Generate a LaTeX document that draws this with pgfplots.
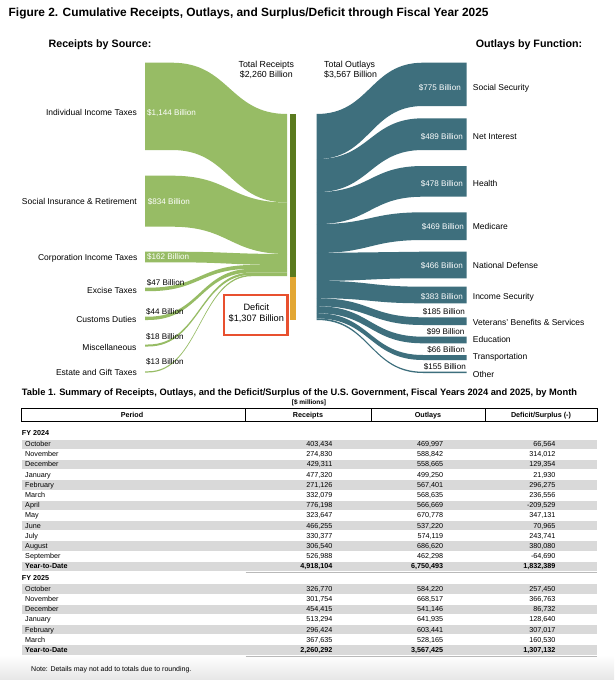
\documentclass[border=0pt]{standalone}
\usepackage{pgfplots}
\pgfplotsset{compat=1.18}
\usepackage{fontspec}
\setmainfont{Liberation Sans}
\definecolor{rgreen}{HTML}{97BC65}
\definecolor{dgreen}{HTML}{5A7A1E}
\definecolor{defor}{HTML}{E3A734}
\definecolor{teal2}{HTML}{3E6F7D}
\definecolor{boxred}{HTML}{E8502F}
\definecolor{band}{HTML}{D9D9D9}
\newcommand{\fs}[1]{\fontsize{#1}{#1}\selectfont}
\tikzset{
 lab/.style={font=\fs{8.5}, inner sep=0pt, text height=6.1pt, text depth=0pt},
 val/.style={font=\fs{8.1}, inner sep=0pt, text height=5.8pt, text depth=0pt},
 tb/.style={font=\fs{7.2}, inner sep=0pt, text height=5.2pt, text depth=0pt},
 tbb/.style={font=\bfseries\fs{7.2}, inner sep=0pt, text height=5.2pt, text depth=0pt},
}
% left (receipts) flows: left top, left bottom, right top, right bottom
\newcommand{\lflow}[4]{\fill[rgreen] (145,#1) -- (172,#1) .. controls (229.5,#1) and (229.5,#3) .. (287,#3) -- (287,#4) .. controls (229.5,#4) and (229.5,#2) .. (172,#2) -- (145,#2) -- cycle;}
\newcommand{\sflow}[4]{\fill[rgreen] (145,#1) -- (148,#1) .. controls (200,#1) and (200,#3) .. (252,#3) -- (287,#3) -- (287,#4) -- (252,#4) .. controls (200,#4) and (200,#2) .. (148,#2) -- (145,#2) -- cycle;}
% right (outlays) flows
\newcommand{\rflow}[4]{\fill[teal2] (316.7,#1) .. controls (370,#1) and (370,#3) .. (423,#3) -- (466.7,#3) -- (466.7,#4) -- (423,#4) .. controls (370,#4) and (370,#2) .. (316.7,#2) -- cycle;}
% table row: y, name, receipts, outlays, deficit, band
\newcommand{\trow}[6]{%
 \ifnum#6=1 \fill[band] (21.7,#1-4.5) rectangle (597.3,#1+4.8);\fi
 \node[tb,anchor=west] at (25,#1) {#2};
 \node[tb,anchor=east] at (332.5,#1) {#3};
 \node[tb,anchor=east] at (443.3,#1) {#4};
 \node[tb,anchor=east] at (555.7,#1) {#5};}
\newcommand{\tytd}[5]{%
 \fill[band] (21.7,#1-4.5) rectangle (597.3,#1+4.8);
 \draw[gray!55,line width=0.8pt] (245.5,#1+6.8) -- (597.3,#1+6.8);
 \node[tbb,anchor=west] at (25,#1) {#2};
 \node[tbb,anchor=east] at (332.5,#1) {#3};
 \node[tbb,anchor=east] at (443.3,#1) {#4};
 \node[tbb,anchor=east] at (555.7,#1) {#5};}
\begin{document}
\begin{tikzpicture}
\begin{axis}[scale only axis, width=614pt, height=680pt, xmin=0, xmax=614, ymin=0, ymax=680,
  y dir=reverse, hide axis, clip=false]
\fill[white] (0,0) rectangle (614,680);
\shade[top color=white, bottom color=black!10] (0,655) rectangle (614,680);
% titles
\node[anchor=west, font=\bfseries\fs{11.9}, inner sep=0pt] at (8.5,13) {Figure 2. Cumulative Receipts, Outlays, and Surplus/Deficit through Fiscal Year 2025};
\node[anchor=west, font=\bfseries\fs{10.7}, inner sep=0pt] at (48.4,44.8) {Receipts by Source:};
\node[anchor=west, font=\bfseries\fs{10.7}, inner sep=0pt] at (475.6,44.8) {Outlays by Function:};
\node[font=\fs{8.8}, align=center, inner sep=0pt] at (266.3,70) {Total Receipts\\[1.4pt]\$2,260 Billion};
\node[font=\fs{8.8}, align=left, inner sep=0pt, anchor=west] at (324,70) {Total Outlays\\[1.4pt]\$3,567 Billion};
% receipts flows
\lflow{62.7}{150}{114}{202.5}
\lflow{175.7}{226.7}{202.5}{254}
\lflow{251.7}{262.3}{254}{265}
\sflow{287.7}{291.2}{265}{268.8}
\sflow{316.7}{320}{268.8}{272.5}
\sflow{344.5}{346.5}{272.5}{274.8}
\sflow{371.3}{372.5}{274.8}{276.2}
% receipts / deficit column
\fill[dgreen] (290,114) rectangle (295.7,276.7);
\fill[defor] (290,276.7) rectangle (295.7,320);
% outlays flows
\rflow{114}{159.1}{62.7}{106}
\rflow{159.1}{192.1}{118.3}{150}
\rflow{192.1}{224.1}{166}{196.7}
\rflow{224.1}{253}{212.3}{240}
\rflow{253}{280.8}{251.7}{278.3}
\rflow{280.8}{298.2}{286.7}{303.3}
\rflow{298.2}{306.2}{317.3}{325}
\rflow{306.2}{313.2}{336.7}{343.3}
\rflow{313.2}{318.4}{355}{360}
\rflow{318.4}{320}{371.7}{373}
% receipts labels
\node[lab,anchor=east] at (137,112.7) {Individual Income Taxes};
\node[lab,anchor=east] at (137,201.7) {Social Insurance \& Retirement};
\node[lab,anchor=east] at (137.5,257.3) {Corporation Income Taxes};
\node[lab,anchor=east] at (137,290) {Excise Taxes};
\node[lab,anchor=east] at (136.5,319.3) {Customs Duties};
\node[lab,anchor=east] at (136.5,347.3) {Miscellaneous};
\node[lab,anchor=east] at (137,372) {Estate and Gift Taxes};
\node[val,anchor=west,white] at (147,112.7) {\$1,144 Billion};
\node[val,anchor=west,white] at (147.7,201.7) {\$834 Billion};
\node[val,anchor=west,white] at (147,257) {\$162 Billion};
\node[val,anchor=west] at (146.7,282.7) {\$47 Billion};
\node[val,anchor=west] at (146,311.3) {\$44 Billion};
\node[val,anchor=west] at (146,337) {\$18 Billion};
\node[val,anchor=west] at (146,362) {\$13 Billion};
% deficit box
\draw[boxred, line width=2.8pt, fill=white] (224,295) rectangle (287.3,335);
\node[font=\fs{9.2}, align=center, inner sep=0pt] at (256.3,313.2) {Deficit\\[1.6pt]\$1,307 Billion};
% outlays labels
\node[val,anchor=east,white] at (461,87.7) {\$775 Billion};
\node[val,anchor=east,white] at (463,136.7) {\$489 Billion};
\node[val,anchor=east,white] at (463,183.3) {\$478 Billion};
\node[val,anchor=east,white] at (464,226.7) {\$469 Billion};
\node[val,anchor=east,white] at (463,265.7) {\$466 Billion};
\node[val,anchor=east,white] at (463,296.7) {\$383 Billion};
\node[val,anchor=east] at (465,311.7) {\$185 Billion};
\node[val,anchor=east] at (464.5,331.7) {\$99 Billion};
\node[val,anchor=east] at (465,350) {\$66 Billion};
\node[val,anchor=east] at (466,366.7) {\$155 Billion};
\node[lab,anchor=west] at (472.7,87.7) {Social Security};
\node[lab,anchor=west] at (472.7,136.7) {Net Interest};
\node[lab,anchor=west] at (472.7,183.3) {Health};
\node[lab,anchor=west] at (472.7,226.7) {Medicare};
\node[lab,anchor=west] at (472.7,265.7) {National Defense};
\node[lab,anchor=west] at (472.7,296.7) {Income Security};
\node[lab,anchor=west] at (472.7,322.3) {Veterans' Benefits \& Services};
\node[lab,anchor=west] at (472.7,339.3) {Education};
\node[lab,anchor=west] at (472.7,356.7) {Transportation};
\node[lab,anchor=west] at (472.7,374) {Other};
% table
\node[anchor=west, font=\bfseries\fs{9.3}, inner sep=0pt] at (21.7,392.7) {Table 1. Summary of Receipts, Outlays, and the Deficit/Surplus of the U.S. Government, Fiscal Years 2024 and 2025, by Month};
\node[font=\bfseries\fs{6.5}, inner sep=0pt] at (309,403) {[\$ millions]};
\draw[line width=0.6pt] (21,408.3) rectangle (597.3,421.7);
\draw[line width=0.6pt] (245.5,408.3) -- (245.5,421.7);
\draw[line width=0.6pt] (371,408.3) -- (371,421.7);
\draw[line width=0.6pt] (485,408.3) -- (485,421.7);
\node[tbb] at (132,415) {Period};
\node[tbb] at (308,415) {Receipts};
\node[tbb] at (428,415) {Outlays};
\node[tbb] at (541,415) {Deficit/Surplus (-)};
\node[tbb,anchor=west] at (21.7,433.3) {FY 2024};
\trow{444.0}{October}{403,434}{469,997}{66,564}{1}
\trow{454.2}{November}{274,830}{588,842}{314,012}{0}
\trow{464.3}{December}{429,311}{558,665}{129,354}{1}
\trow{474.5}{January}{477,320}{499,250}{21,930}{0}
\trow{484.7}{February}{271,126}{567,401}{296,275}{1}
\trow{494.9}{March}{332,079}{568,635}{236,556}{0}
\trow{505.0}{April}{776,198}{566,669}{-209,529}{1}
\trow{515.2}{May}{323,647}{670,778}{347,131}{0}
\trow{525.4}{June}{466,255}{537,220}{70,965}{1}
\trow{535.5}{July}{330,377}{574,119}{243,741}{0}
\trow{545.7}{August}{306,540}{686,620}{380,080}{1}
\trow{555.9}{September}{526,988}{462,298}{-64,690}{0}
\tytd{566.0}{Year-to-Date}{4,918,104}{6,750,493}{1,832,389}
\node[tbb,anchor=west] at (21.7,578.3) {FY 2025};
\trow{588.7}{October}{326,770}{584,220}{257,450}{1}
\trow{598.9}{November}{301,754}{668,517}{366,763}{0}
\trow{609.0}{December}{454,415}{541,146}{86,732}{1}
\trow{619.2}{January}{513,294}{641,935}{128,640}{0}
\trow{629.4}{February}{296,424}{603,441}{307,017}{1}
\trow{639.5}{March}{367,635}{528,165}{160,530}{0}
\tytd{649.7}{Year-to-Date}{2,260,292}{3,567,425}{1,307,132}
\node[anchor=west, font=\fs{7}, inner sep=0pt] at (31,669.3) {Note: Details may not add to totals due to rounding.};
\end{axis}
\end{tikzpicture}
\end{document}
